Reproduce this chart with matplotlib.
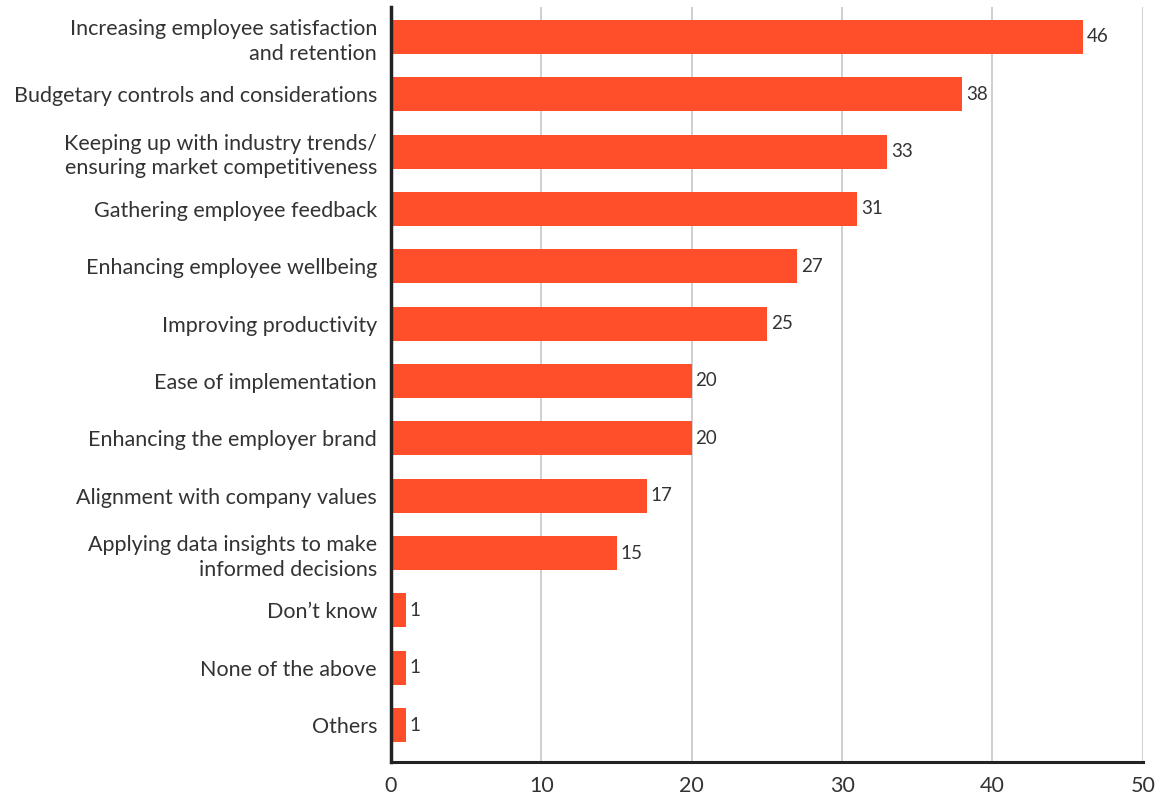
import matplotlib
matplotlib.use("Agg")
import matplotlib.pyplot as plt

# Priorities, listed top to bottom
categories = [
    "Increasing employee satisfaction\nand retention",
    "Budgetary controls and considerations",
    "Keeping up with industry trends/\nensuring market competitiveness",
    "Gathering employee feedback",
    "Enhancing employee wellbeing",
    "Improving productivity",
    "Ease of implementation",
    "Enhancing the employer brand",
    "Alignment with company values",
    "Applying data insights to make\ninformed decisions",
    "Don\u2019t know",
    "None of the above",
    "Others",
]
values = [46, 38, 33, 31, 27, 25, 20, 20, 17, 15, 1, 1, 1]
x_ticks = [0, 10, 20, 30, 40, 50]

bar_color = "#FF4F2A"
text_color = "#333333"

plt.rcParams["font.family"] = ["Lato", "DejaVu Sans"]

fig = plt.figure(figsize=(11.65, 7.95), dpi=100)
ax = fig.add_axes([0.3356, 0.0415, 0.6454, 0.9495])

n = len(categories)
ypos = list(range(n - 1, -1, -1))
ax.barh(ypos, values, height=0.59, color=bar_color, zorder=3)

for y, v in zip(ypos, values):
    ax.text(v + 0.25, y, str(v), va="center", ha="left",
            fontsize=13.5, color=text_color)

ax.set_yticks(ypos)
ax.set_yticklabels(categories, fontsize=15.5, color=text_color, ha="right",
                   linespacing=1.3)
ax.set_xticks(x_ticks)
ax.set_xticklabels([str(t) for t in x_ticks], fontsize=15.5, color=text_color)
ax.set_xlim(0, 50)
ax.set_ylim(-0.645, n - 1 + 0.52)

ax.tick_params(axis="both", length=0)
ax.tick_params(axis="y", pad=10)
ax.tick_params(axis="x", pad=10)

ax.grid(axis="x", color="#cccccc", linewidth=1.3, zorder=0)
for s in ["top", "right"]:
    ax.spines[s].set_visible(False)
ax.spines["left"].set_color("#222222")
ax.spines["left"].set_linewidth(2.5)
ax.spines["bottom"].set_color("#222222")
ax.spines["bottom"].set_linewidth(2.2)
ax.spines["left"].set_zorder(4)
ax.spines["bottom"].set_zorder(4)

fig.savefig("out.png", dpi=100, facecolor="white")
